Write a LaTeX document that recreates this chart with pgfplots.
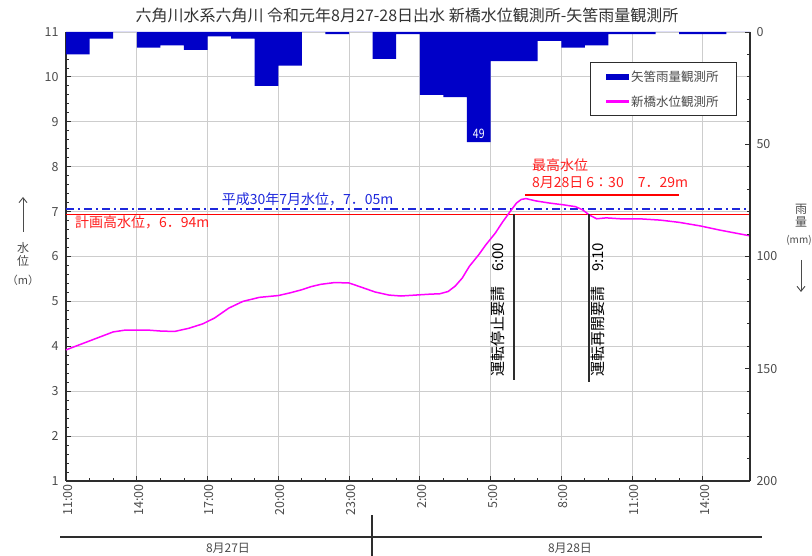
\documentclass[border=0pt]{standalone}
\usepackage{fontspec}
\setmainfont{Noto Sans CJK JP}
\newfontfamily\narrowfont{Noto Sans CJK JP}[FakeStretch=0.8]
\usepackage{pgfplots}
\pgfplotsset{compat=1.18}
\usetikzlibrary{arrows.meta}
\definecolor{rainblue}{RGB}{0,0,200}
\definecolor{lvlmag}{RGB}{255,0,255}
\definecolor{hwred}{RGB}{255,0,0}
\definecolor{txtred}{RGB}{255,30,30}
\definecolor{refblue}{RGB}{30,40,220}
\definecolor{gridgray}{RGB}{205,205,205}
\definecolor{axgray}{RGB}{45,45,45}
\definecolor{lblgray}{RGB}{75,75,75}
\begin{document}
\begin{tikzpicture}[x=1pt,y=1pt]
\useasboundingbox (0,0) rectangle (812,556);
% ---------------- water level axis ----------------
\begin{axis}[
  at={(66pt,75pt)}, anchor=south west,
  scale only axis, width=684pt, height=449pt,
  xmin=0, xmax=29, ymin=1, ymax=11,
  axis x line*=bottom, axis y line*=left,
  axis line style={axgray, line width=1.4pt},
  tick align=inside,
  xtick={0,3,...,27},
  xticklabels={11:00,14:00,17:00,20:00,23:00,2:00,5:00,8:00,11:00,14:00},
  minor x tick num=2,
  ytick={1,...,11},
  minor y tick num=4,
  grid=major,
  major grid style={gridgray, line width=0.8pt},
  major tick length=5pt, minor tick length=3pt,
  tick style={axgray, line width=0.8pt},
  xticklabel style={rotate=90, anchor=east, font=\fontsize{12.5}{12.5}\selectfont, text=lblgray, yshift=-2pt},
  yticklabel style={font=\fontsize{12.5}{12.5}\selectfont, text=lblgray, xshift=-4pt},
  /pgf/number format/assume math mode=true,
  clip=false,
]
% design high water level 6.94 m
\addplot[hwred, line width=1.5pt] coordinates {(0,6.94) (29,6.94)};
% July 2018 level 7.05 m
\addplot[refblue, line width=1.8pt, dash pattern=on 8pt off 4pt on 2pt off 4pt] coordinates {(0,7.05) (29,7.05)};
% water level
\addplot[lvlmag, line width=1.5pt] coordinates {
(0,3.92) (0.5,4.02) (1.0,4.12) (1.5,4.22) (2.0,4.32) (2.5,4.36) (3.0,4.36) (3.5,4.36)
(4.0,4.34) (4.6,4.33) (5.2,4.40) (5.8,4.50) (6.3,4.63) (6.9,4.85) (7.5,5.00) (8.2,5.09)
(9.0,5.13) (9.5,5.19) (10.0,5.26) (10.4,5.33) (10.8,5.38) (11.4,5.42) (12.0,5.41) (12.5,5.32)
(13.1,5.21) (13.7,5.14) (14.2,5.12) (14.8,5.14) (15.4,5.16) (15.85,5.17) (16.2,5.22) (16.5,5.34)
(16.8,5.52) (17.1,5.78) (17.5,6.04) (17.8,6.26) (18.2,6.52) (18.5,6.76) (18.8,6.98) (19.1,7.19)
(19.3,7.27) (19.5,7.29) (19.9,7.24) (20.5,7.19) (21.1,7.15) (21.6,7.11) (21.9,7.04) (22.2,6.92)
(22.5,6.84) (22.9,6.86) (23.5,6.84) (24.3,6.84) (25.2,6.81) (26.0,6.76) (26.9,6.68) (27.7,6.59)
(29,6.46)};
% operation request lines
\addplot[axgray, line width=1.3pt] coordinates {(19,6.95) (19,3.25)};
\addplot[axgray, line width=1.3pt] coordinates {(22.17,6.95) (22.17,3.2)};
% max level underline
\addplot[hwred, line width=1.3pt] coordinates {(19.45,7.37) (26.0,7.37)};
% annotations
\node[anchor=west, text=refblue, font=\fontsize{14}{14}\selectfont, inner sep=0pt] at (axis cs:6.6,7.27) {平成30年7月水位，7．05m};
\node[anchor=west, text=txtred, font=\fontsize{14}{14}\selectfont, inner sep=0pt] at (axis cs:0.38,6.77) {計画高水位，6．94m};
\node[anchor=west, text=txtred, font=\fontsize{14}{14}\selectfont, inner sep=0pt] at (axis cs:19.75,8.04) {最高水位};
\node[anchor=west, text=txtred, font=\fontsize{14}{14}\selectfont, inner sep=0pt] at (axis cs:19.75,7.64) {8月28日 6：30　7．29m};
\node[rotate=90, text=black, font=\fontsize{15}{15}\selectfont, inner sep=0pt] at (axis cs:18.3,4.81) {運転停止要請　6:00};
\node[rotate=90, text=black, font=\fontsize{15}{15}\selectfont, inner sep=0pt] at (axis cs:22.55,4.81) {運転再開要請　9:10};
\end{axis}
% ---------------- rainfall axis ----------------
\begin{axis}[
  at={(66pt,75pt)}, anchor=south west,
  scale only axis, width=684pt, height=449pt,
  xmin=0, xmax=29, ymin=0, ymax=200, y dir=reverse,
  axis x line=none, axis y line*=right,
  axis line style={axgray, line width=1.4pt},
  tick align=inside,
  ytick={0,50,...,200},
  minor y tick num=4,
  major tick length=5pt, minor tick length=3pt,
  tick style={axgray, line width=0.8pt},
  yticklabel style={font=\fontsize{12.5}{12.5}\selectfont, text=lblgray, xshift=3pt},
  /pgf/number format/assume math mode=true,
  legend style={at={(0.981,0.933)}, anchor=north east, draw=axgray, line width=0.8pt,
    fill=white, font=\fontsize{12.5}{13}\selectfont, text=lblgray,
    row sep=9pt, inner xsep=16pt, inner ysep=6pt},
  legend cell align=left,
  clip=false,
]
\addplot[ybar interval, fill=rainblue, draw=none, forget plot] coordinates {
(0,10) (1,3) (2,0) (3,7) (4,6) (5,8) (6,2) (7,3) (8,24) (9,15)
(10,0) (11,1) (12,0) (13,12) (14,1) (15,28) (16,29) (17,49) (18,13) (19,13)
(20,4) (21,7) (22,6) (23,1) (24,1) (25,0) (26,1) (27,1) (28,0) (29,0)};
\node[text=white, font=\narrowfont\fontsize{13}{13}\selectfont, inner sep=0pt] at (axis cs:17.5,45.5) {49};
\addlegendimage{legend image code/.code={\fill[rainblue] (0pt,-2.5pt) rectangle (22pt,2.5pt);}}
\addlegendentry{矢筈雨量観測所}
\addlegendimage{legend image code/.code={\fill[lvlmag] (0pt,-0.8pt) rectangle (22pt,0.8pt);}}
\addlegendentry{新橋水位観測所}
\end{axis}
% ---------------- outer texts ----------------
\node[font=\fontsize{16}{16}\selectfont, text=black!80] at (407,541) {六角川水系六角川 令和元年8月27-28日出水 新橋水位観測所-矢筈雨量観測所};
% left axis label
\draw[-{Straight Barb[length=5pt,width=8pt]}, lblgray, line width=0.9pt] (23,324) -- (23,359);
\node[align=center, font=\fontsize{12}{13}\selectfont, text=lblgray] at (23,302) {水\\位};
\node[font=\fontsize{11}{11}\selectfont, text=lblgray] at (23,276) {（m）};
% right axis label
\node[align=center, font=\fontsize{12}{13}\selectfont, text=lblgray] at (801,340) {雨\\量};
\node[font=\fontsize{10}{10}\selectfont, text=lblgray] at (799,316) {(mm)};
\draw[-{Straight Barb[length=5pt,width=8pt]}, lblgray, line width=0.9pt] (801,296) -- (801,264);
% date band
\draw[axgray, line width=1.3pt] (60,19) -- (762,19);
\draw[axgray, line width=1.3pt] (372,0) -- (372,41);
\node[font=\fontsize{12}{12}\selectfont, text=lblgray] at (228,8) {8月27日};
\node[font=\fontsize{12}{12}\selectfont, text=lblgray] at (570,8) {8月28日};
\end{tikzpicture}
\end{document}
